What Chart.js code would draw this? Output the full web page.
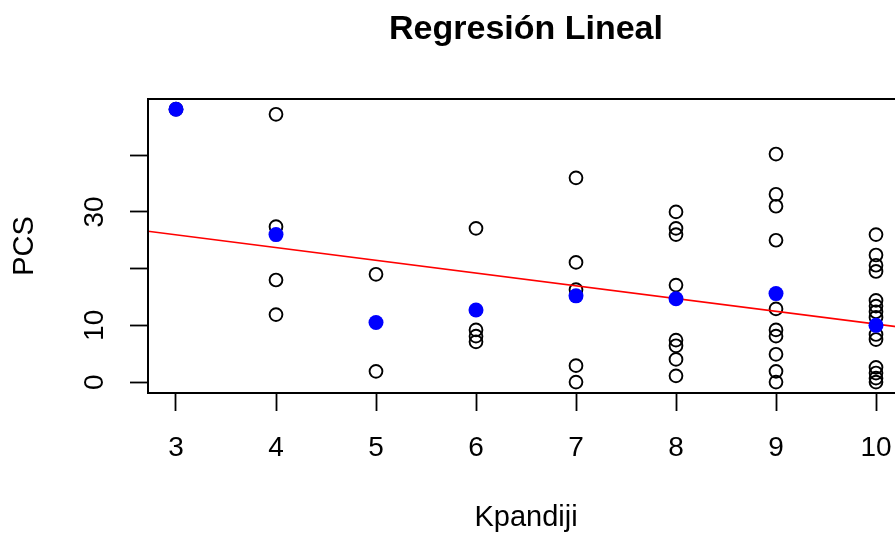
<!DOCTYPE html>
<html>
<head>
<meta charset="utf-8">
<script src="https://cdn.jsdelivr.net/npm/chart.js@4"></script>
<style>
  html, body { margin: 0; padding: 0; background: #fff; overflow: hidden; }
  #wrap { position: relative; width: 960px; height: 539px; }
</style>
</head>
<body>
<div id="wrap"><canvas id="chart"></canvas></div>
<script>
// Data
const kpandiji = [3,
  4, 4, 4, 4,
  5, 5,
  6, 6, 6, 6,
  7, 7, 7, 7, 7,
  8, 8, 8, 8, 8, 8, 8, 8,
  9, 9, 9, 9, 9, 9, 9, 9, 9, 9,
  10, 10, 10, 10, 10, 10, 10, 10, 10, 10, 10, 10, 10, 10];
const pcs = [48.1,
  47.2, 27.4, 18.0, 11.9,
  19.0, 1.9,
  27.1, 9.2, 8.1, 7.1,
  36.0, 21.1, 16.3, 2.9, 0.0,
  30.0, 27.1, 26.0, 17.1, 7.4, 6.4, 4.0, 1.1,
  40.2, 33.1, 31.0, 25.0, 12.9, 9.2, 8.1, 4.9, 1.9, 0.0,
  26.0, 22.4, 20.6, 19.5, 14.4, 13.4, 12.4, 11.4, 8.4, 7.5, 2.6, 1.6, 0.7, 0.0];

// group means (blue points)
const meanKpandiji = [3, 4, 5, 6, 7, 8, 9, 10];
const meanPcs = [48.1, 26.0, 10.5, 12.7, 15.2, 14.7, 15.6, 10.0];

// regression line end points (at the plot edges)
const regKpandiji = [2.72, 10.28];
const regPcs = [26.6, 9.6];

const xTicks = [3, 4, 5, 6, 7, 8, 9, 10];
const yTicks = [0, 10, 20, 30, 40];
const yTickLabels = ['0', '10', '', '30', ''];

const FONT = "'Liberation Sans', Arial, Helvetica, sans-serif";

// Title centred over the plot region, plus the box round it
const plotFrame = {
    id: 'plotFrame',
    afterDraw(chart) {
        const { ctx, chartArea } = chart;
        ctx.save();
        ctx.strokeStyle = '#000';
        ctx.lineWidth = 2;
        ctx.strokeRect(chartArea.left, chartArea.top,
            chartArea.right - chartArea.left, chartArea.bottom - chartArea.top);
        ctx.fillStyle = '#000';
        ctx.font = 'bold 34px ' + FONT;
        ctx.textAlign = 'center';
        ctx.textBaseline = 'alphabetic';
        ctx.fillText('Regresión Lineal', (chartArea.left + chartArea.right) / 2, 39);
        ctx.restore();
    }
};

const toPoints = (xs, ys) => xs.map((x, i) => ({ x: x, y: ys[i] }));

const tickGrid = {
    display: true,
    drawOnChartArea: false,
    drawTicks: true,
    tickLength: 18,
    tickWidth: 1.8,
    tickColor: '#000'
};

new Chart(document.getElementById('chart'), {
    type: 'scatter',
    data: {
        datasets: [
            {
                label: 'Medias',
                data: toPoints(meanKpandiji, meanPcs),
                backgroundColor: '#0000ff',
                borderColor: '#0000ff',
                borderWidth: 0,
                pointRadius: 7.5,
                order: 0
            },
            {
                label: 'Recta',
                type: 'line',
                data: toPoints(regKpandiji, regPcs),
                borderColor: '#ff0000',
                borderWidth: 1.6,
                pointRadius: 0,
                fill: false,
                order: 1
            },
            {
                label: 'Datos',
                data: toPoints(kpandiji, pcs),
                backgroundColor: 'transparent',
                borderColor: '#000',
                borderWidth: 1.9,
                pointRadius: 6.4,
                order: 2
            }
        ]
    },
    options: {
        responsive: true,
        maintainAspectRatio: false,
        animation: false,
        layout: { padding: { top: 99, right: 56, left: 0, bottom: 0 } },
        plugins: {
            legend: { display: false },
            tooltip: { enabled: false },
            title: { display: false }
        },
        scales: {
            x: {
                type: 'linear',
                min: 2.72,
                max: 10.28,
                afterBuildTicks: (scale) => { scale.ticks = xTicks.map(v => ({ value: v })); },
                afterFit: (scale) => { scale.height = 146; },
                grid: tickGrid,
                border: { display: false },
                ticks: {
                    color: '#000',
                    font: { family: FONT, size: 28 },
                    padding: 20,
                    autoSkip: false,
                    maxRotation: 0,
                    callback: (v) => String(v)
                },
                title: {
                    display: true,
                    text: 'Kpandiji',
                    color: '#000',
                    font: { family: FONT, size: 29 },
                    padding: { top: 0, bottom: 4 }
                }
            },
            y: {
                type: 'linear',
                min: -1.92,
                max: 49.9,
                afterBuildTicks: (scale) => { scale.ticks = yTicks.map(v => ({ value: v })); },
                afterFit: (scale) => { scale.width = 148; },
                grid: tickGrid,
                border: { display: false },
                ticks: {
                    color: '#000',
                    font: { family: FONT, size: 28 },
                    padding: 19,
                    autoSkip: false,
                    minRotation: 90,
                    maxRotation: 90,
                    crossAlign: 'center',
                    callback: (v) => yTickLabels[yTicks.indexOf(v)]
                },
                title: {
                    display: true,
                    text: 'PCS',
                    color: '#000',
                    font: { family: FONT, size: 29 },
                    padding: { top: 8, bottom: 0 }
                }
            }
        }
    },
    plugins: [plotFrame]
});
</script>
</body>
</html>
